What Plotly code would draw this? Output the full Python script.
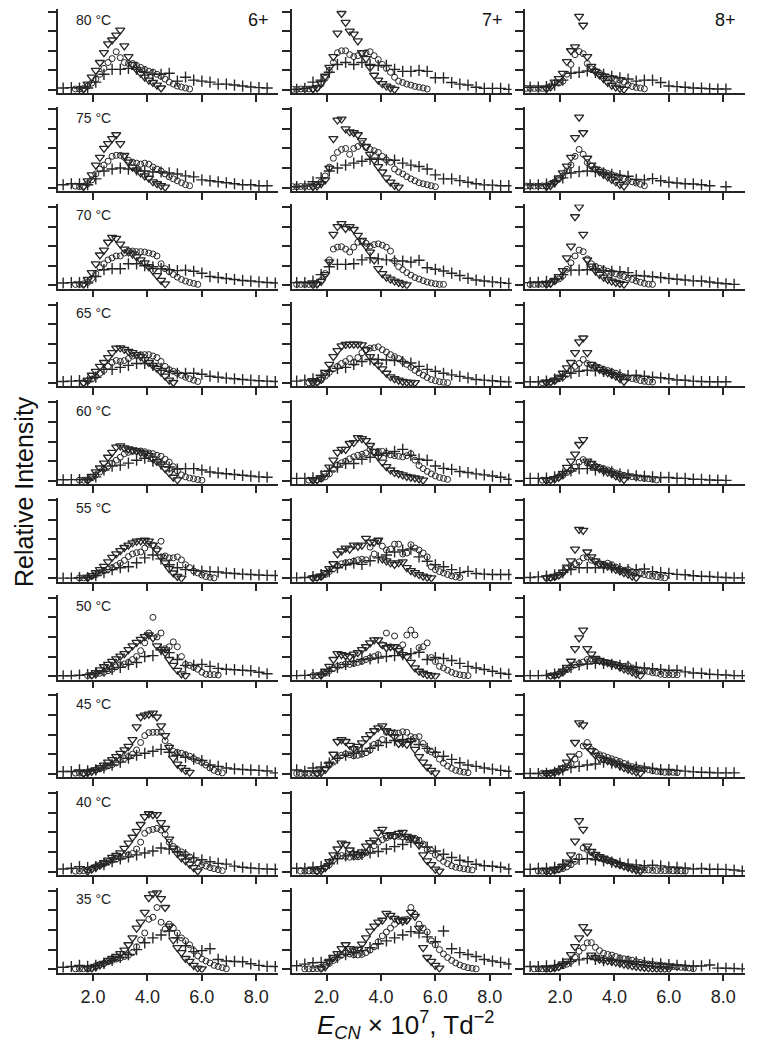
import plotly.graph_objects as go

N = None  # no measurement at this grid position

TEMPS = [80, 75, 70, 65, 60, 55, 50, 45, 40, 35]
CHARGES = ["6+", "7+", "8+"]
X_TICKS = [2, 4, 6, 8]
X_TICK_TEXT = ["2.0", "4.0", "6.0", "8.0"]

# E_CN grids the three series were sampled on
X_TRI = [1.5, 1.65, 1.8, 1.95, 2.1, 2.25, 2.4, 2.55, 2.7, 2.85, 3.0, 3.15, 3.3, 3.45, 3.6, 3.75,
         3.9, 4.05, 4.2, 4.35, 4.5, 4.65, 4.8, 4.95, 5.1, 5.25, 5.4, 5.55, 5.7, 5.85, 6.0, 6.15, 6.3]
X_CIRC = [0.75, 0.9, 1.05, 1.2, 1.35, 1.5, 1.65, 1.8, 1.95, 2.1, 2.25, 2.4, 2.55, 2.7, 2.85, 3.0,
          3.15, 3.3, 3.45, 3.6, 3.75, 3.9, 4.05, 4.2, 4.35, 4.5, 4.65, 4.8, 4.95, 5.1, 5.25, 5.4,
          5.55, 5.7, 5.85, 6.0, 6.15, 6.3, 6.45, 6.6, 6.75, 6.9, 7.05, 7.2, 7.35, 7.5, 7.65]
X_PLUS = [0.9, 1.2, 1.5, 1.8, 2.1, 2.4, 2.7, 3.0, 3.3, 3.6, 3.9, 4.2, 4.5, 4.8, 5.1, 5.4, 5.7,
          6.0, 6.3, 6.6, 6.9, 7.2, 7.5, 7.8, 8.1, 8.4, 8.7]

# ---- triangles ----
T6_80 = [N, 0.05, 0.3, 0.65, 1.0, 1.4, 1.9, 2.35, 2.55, 2.8, 3.05, 2.25, 1.7, 1.3, 1.05, 0.85, 0.65, 0.5, 0.38, 0.25, 0.1]
T6_75 = [N, 0.05, 0.35, 0.65, 1.15, 1.55, 2.0, 2.25, 2.5, 2.7, 2.25, 1.65, 1.3, 1.05, 0.9, 0.75, 0.6, 0.48, 0.3, 0.2, 0.1, 0.03]
T6_70 = [N, 0.05, 0.3, 0.65, 1.1, 1.55, 1.8, 2.2, 2.45, 2.4, 2.1, 1.85, 1.7, 1.6, 1.45, 1.3, 1.15, 0.95, 0.75, 0.5, 0.25, 0.08]
T6_65 = [N, 0.02, 0.15, 0.4, 0.6, 0.85, 1.05, 1.3, 1.55, 1.78, 1.8, 1.72, 1.62, 1.55, 1.45, 1.35, 1.2, 1.05, 0.9, 0.75, 0.55, 0.35, 0.15, 0.03]
T6_60 = [N, N, 0.03, 0.22, 0.45, 0.65, 0.9, 1.2, 1.45, 1.72, 1.78, 1.68, 1.62, 1.57, 1.52, 1.45, 1.38, 1.28, 1.12, 0.98, 0.85, 0.62, 0.4, 0.18, 0.05]
T6_55 = [N, N, 0.03, 0.15, 0.3, 0.45, 0.62, 0.85, 1.08, 1.25, 1.42, 1.58, 1.7, 1.82, 1.9, 1.92, 1.95, 1.9, 1.7, 1.45, 1.1, 0.8, 0.5, 0.28, 0.1, 0.02]
T6_50 = [N, N, N, 0.05, 0.18, 0.32, 0.48, 0.6, 0.75, 0.88, 1.02, 1.15, 1.35, 1.55, 1.72, 1.88, 2.02, 2.1, 1.95, 1.55, 1.35, 1.2, 0.85, 0.55, 0.3, 0.12, 0.03]
T6_45 = [N, 0.02, 0.06, 0.13, 0.2, 0.32, 0.45, 0.6, 0.73, 0.88, 1.05, 1.22, 1.4, 1.75, 2.4, 2.9, 3.0, 3.05, 3.1, 2.9, 2.45, 1.95, 1.35, 0.8, 0.5, 0.32, 0.18, 0.08]
T6_40 = [N, N, 0.02, 0.12, 0.22, 0.33, 0.45, 0.58, 0.72, 0.82, 0.95, 1.18, 1.45, 1.75, 2.05, 2.4, 2.8, 2.95, 2.9, 2.9, 2.5, 2.2, 1.65, 1.2, 0.92, 0.7, 0.55, 0.38, 0.2, 0.03]
T6_35 = [N, N, 0.02, 0.05, 0.12, 0.22, 0.3, 0.45, 0.55, 0.65, 0.8, 0.98, 1.25, 1.6, 2.1, 2.4, 2.9, 3.65, 3.85, 3.9, 3.6, 3.15, 2.2, 1.5, 1.1, 0.85, 0.55, 0.4, 0.2, 0.06, 0.02]

T7_80 = [0.05, 0.1, 0.35, 0.7, 1.15, 1.7, 2.9, 3.9, 3.45, 3.0, 2.85, 2.5, 1.9, 1.6, 1.15, 0.75, 0.5, 0.32, 0.2, 0.1, 0.03]
T7_75 = [0.05, 0.08, 0.2, 0.4, 1.0, 2.5, 3.45, 3.5, 3.0, 2.85, 2.8, 2.7, 2.4, 2.1, 1.7, 1.4, 1.07, 0.8, 0.5, 0.28, 0.12, 0.03]
T7_70 = [0.03, 0.06, 0.2, 0.55, 1.2, 2.6, 3.0, 3.15, 2.9, 3.0, 2.85, 2.55, 2.3, 2.0, 1.7, 1.3, 0.85, 0.6, 0.42, 0.32, 0.22, 0.15, 0.08, 0.03]
T7_65 = [0.03, 0.05, 0.2, 0.55, 0.95, 1.35, 1.65, 1.9, 1.97, 1.98, 1.98, 1.98, 1.95, 1.7, 1.35, 1.12, 0.92, 0.72, 0.5, 0.32, 0.22, 0.15, 0.08, 0.05, 0.03, 0.02]
T7_60 = [0.03, 0.05, 0.15, 0.38, 0.7, 1.05, 1.45, 1.6, 1.6, 1.9, 1.95, 2.2, 2.15, 2.05, 1.8, 1.5, 1.22, 0.95, 0.72, 0.55, 0.42, 0.36, 0.3, 0.22, 0.18, 0.14, 0.1, 0.03]
T7_55 = [0.03, 0.05, 0.12, 0.3, 0.5, 0.75, 1.25, 1.4, 1.55, 1.5, 1.7, 1.65, 1.7, 2.05, 1.85, 1.85, 1.95, 1.0, 0.9, 0.8, 0.72, 0.8, 0.85, 0.55, 0.4, 0.3, 0.2, 0.12, 0.06, 0.03]
T7_50 = [N, N, 0.05, 0.25, 0.5, 0.85, 1.15, 1.1, 1.05, 1.0, 1.12, 1.2, 1.35, 1.5, 1.7, 1.85, 1.85, 1.6, 1.45, 1.5, 1.5, 1.3, 1.1, 1.0, 0.7, 0.42, 0.25, 0.15, 0.08, 0.04, 0.02]
T7_45 = [N, 0.02, 0.06, 0.22, 0.5, 1.0, 1.65, 1.75, 1.65, 1.45, 1.28, 1.4, 1.58, 1.8, 2.0, 2.2, 2.35, 2.45, 2.2, 2.12, 1.9, 1.55, 1.58, 1.5, 1.7, 1.25, 0.88, 0.6, 0.35, 0.18, 0.05]
T7_40 = [N, 0.02, 0.05, 0.2, 0.5, 0.85, 1.15, 1.45, 1.38, 1.1, 0.92, 0.88, 1.0, 1.3, 1.48, 1.6, 2.0, 2.15, 1.85, 1.88, 1.8, 1.95, 2.0, 1.8, 1.7, 1.62, 1.35, 0.85, 0.55, 0.35, 0.12, 0.02]
T7_35 = [N, N, 0.03, 0.12, 0.4, 0.6, 0.8, 1.05, 1.25, 1.05, 0.98, 1.02, 1.28, 1.6, 1.95, 2.2, 2.4, 2.5, 2.85, 2.75, 2.6, 2.5, 2.45, 2.5, 2.9, 2.7, 2.1, 1.1, 0.6, 0.4, 0.2, 0.06]

T8_80 = [0.06, 0.15, 0.4, 0.58, 0.85, 1.45, 2.0, 2.2, 3.75, 3.3, 1.7, 1.2, 0.95, 0.77, 0.58, 0.38, 0.24, 0.15, 0.08, 0.03]
T8_75 = [0.05, 0.1, 0.25, 0.5, 0.75, 1.1, 1.55, 2.55, 3.6, 2.8, 1.5, 1.15, 0.95, 0.82, 0.68, 0.55, 0.42, 0.3, 0.17, 0.08]
T8_70 = [0.05, 0.1, 0.25, 0.45, 0.75, 1.4, 2.0, 3.5, 4.0, 2.6, 1.3, 0.98, 0.75, 0.56, 0.42, 0.3, 0.22, 0.15, 0.1, 0.05]
T8_65 = [0.03, 0.06, 0.15, 0.3, 0.5, 0.78, 1.05, 1.55, 2.1, 2.3, 1.55, 0.95, 0.82, 0.7, 0.6, 0.53, 0.44, 0.35, 0.22, 0.08]
T8_60 = [0.02, 0.05, 0.1, 0.18, 0.37, 0.68, 1.0, 1.36, 1.85, 2.1, 1.0, 0.88, 0.72, 0.62, 0.52, 0.44, 0.36, 0.25, 0.15, 0.06]
T8_55 = [0.03, 0.05, 0.1, 0.18, 0.32, 0.58, 0.9, 1.5, 2.5, 2.45, 1.35, 1.1, 0.9, 0.76, 0.68, 0.63, 0.58, 0.46, 0.38, 0.3, 0.22, 0.12, 0.04]
T8_50 = [N, 0.02, 0.04, 0.1, 0.25, 0.45, 0.76, 1.4, 1.95, 2.35, 1.4, 1.12, 0.9, 0.8, 0.73, 0.69, 0.63, 0.58, 0.46, 0.37, 0.3, 0.22, 0.12, 0.03]
T8_45 = [0.03, 0.05, 0.08, 0.15, 0.3, 0.6, 0.9, 1.6, 2.6, 2.5, 1.4, 1.18, 0.95, 0.82, 0.74, 0.67, 0.6, 0.52, 0.42, 0.32, 0.24, 0.17, 0.1, 0.04]
T8_40 = [0.02, 0.04, 0.08, 0.15, 0.28, 0.48, 0.85, 1.55, 2.6, 2.15, 1.3, 1.03, 0.87, 0.76, 0.68, 0.6, 0.5, 0.42, 0.35, 0.28, 0.21, 0.15, 0.08, 0.02]
T8_35 = [0.02, 0.04, 0.07, 0.13, 0.27, 0.42, 0.75, 1.15, 1.6, 2.18, 1.9, 0.72, 0.6, 0.52, 0.47, 0.44, 0.4, 0.36, 0.31, 0.26, 0.22, 0.18, 0.15, 0.12, 0.09, 0.07, 0.05, 0.04, 0.03, 0.02, 0.02]

# ---- circles ----
C6_80 = [N, N, N, N, 0.05, 0.05, 0.08, 0.2, 0.35, 0.55, 0.8, 1.1, 1.4, 1.6, 1.95, 1.65, 1.4, 1.35, 1.35, 1.25, 1.15, 1.05, 0.95, 0.9, 0.8, 0.7, 0.55, 0.4, 0.3, 0.2, 0.15, 0.1, 0.05]
C6_75 = [N, N, N, N, 0.08, 0.05, 0.08, 0.2, 0.4, 0.7, 0.95, 1.15, 1.35, 1.6, 1.65, 1.65, 1.55, 1.4, 1.3, 1.25, 1.2, 1.25, 1.2, 1.05, 0.95, 0.85, 0.7, 0.55, 0.45, 0.35, 0.25, 0.15, 0.1]
C6_70 = [N, N, N, N, 0.05, 0.05, 0.08, 0.15, 0.35, 0.6, 0.9, 1.1, 1.3, 1.4, 1.5, 1.5, 1.65, 1.75, 1.75, 1.72, 1.72, 1.7, 1.65, 1.6, 1.5, 1.1, 0.85, 0.7, 0.55, 0.42, 0.3, 0.22, 0.15, 0.1, 0.05]
C6_65 = [N, N, N, N, N, N, 0.02, 0.1, 0.2, 0.35, 0.5, 0.65, 0.85, 1.05, 1.15, 1.1, 1.15, 1.25, 1.38, 1.42, 1.45, 1.45, 1.45, 1.38, 1.3, 1.1, 0.85, 0.68, 0.6, 0.5, 0.4, 0.3, 0.22, 0.15, 0.08]
C6_60 = [N, N, N, N, N, 0.03, 0.03, 0.05, 0.15, 0.3, 0.45, 0.6, 0.75, 0.9, 1.05, 1.2, 1.38, 1.45, 1.5, 1.52, 1.52, 1.48, 1.42, 1.38, 1.3, 1.25, 1.1, 0.95, 0.72, 0.5, 0.3, 0.2, 0.14, 0.1, 0.06, 0.03]
C6_55 = [N, N, N, N, N, 0.03, 0.03, 0.06, 0.12, 0.2, 0.3, 0.4, 0.48, 0.55, 0.65, 0.78, 0.92, 1.12, 1.25, 1.32, 1.35, 1.55, 1.75, 1.7, 1.5, 1.9, 1.15, 1.05, 1.05, 1.1, 0.95, 0.7, 0.55, 0.38, 0.28, 0.18, 0.1, 0.06, 0.03]
C6_50 = [N, N, N, N, N, N, N, 0.03, 0.05, 0.1, 0.15, 0.2, 0.28, 0.35, 0.48, 0.58, 0.62, 0.7, 0.85, 1.0, 1.3, 1.7, 2.2, 3.0, 2.0, 2.2, 1.4, 1.5, 1.75, 1.5, 1.0, 0.6, 0.55, 0.45, 0.35, 0.2, 0.1, 0.08, 0.08, 0.06]
C6_45 = [N, N, N, N, 0.04, 0.04, 0.05, 0.1, 0.15, 0.2, 0.26, 0.32, 0.4, 0.47, 0.56, 0.7, 0.78, 0.88, 1.0, 1.22, 1.6, 1.95, 2.1, 2.12, 2.12, 2.12, 1.7, 1.4, 1.15, 1.1, 1.05, 0.98, 0.9, 0.78, 0.68, 0.58, 0.45, 0.3, 0.18, 0.1, 0.05]
C6_40 = [N, N, N, N, 0.02, 0.03, 0.05, 0.08, 0.15, 0.25, 0.32, 0.4, 0.5, 0.58, 0.65, 0.72, 0.8, 0.85, 0.92, 1.15, 1.5, 1.95, 2.1, 2.15, 2.2, 2.12, 1.9, 1.5, 1.28, 1.12, 1.0, 0.88, 0.75, 0.6, 0.45, 0.35, 0.28, 0.2, 0.15, 0.1, 0.05]
C6_35 = [N, N, N, N, 0.02, 0.02, 0.03, 0.05, 0.1, 0.18, 0.25, 0.3, 0.38, 0.45, 0.52, 0.58, 0.65, 0.72, 0.85, 1.15, 1.5, 1.85, 2.55, 2.65, 3.15, 2.4, 2.05, 2.3, 2.1, 1.85, 1.6, 1.45, 1.25, 0.95, 0.68, 0.52, 0.42, 0.32, 0.2, 0.14, 0.08, 0.03]

C7_80 = [0.03, 0.03, 0.05, 0.05, 0.05, 0.07, 0.1, 0.3, 0.6, 1.0, 1.4, 1.9, 2.0, 2.0, 1.8, 1.7, 1.75, 1.85, 1.9, 1.95, 1.75, 1.55, 1.3, 1.1, 0.9, 0.65, 0.45, 0.38, 0.3, 0.25, 0.18, 0.14, 0.1, 0.05]
C7_75 = [0.05, 0.05, 0.06, 0.06, 0.06, 0.08, 0.15, 0.3, 0.6, 1.05, 1.5, 1.8, 1.95, 2.0, 1.7, 2.0, 2.1, 2.25, 2.05, 1.95, 1.88, 1.8, 1.6, 1.42, 1.3, 0.95, 0.8, 0.7, 0.56, 0.45, 0.35, 0.25, 0.2, 0.15, 0.1, 0.05]
C7_70 = [N, 0.05, 0.05, 0.05, 0.05, 0.06, 0.1, 0.25, 0.6, 1.3, 1.85, 1.95, 1.97, 1.85, 1.7, 1.95, 2.2, 2.22, 2.15, 2.0, 2.08, 2.12, 2.05, 1.95, 1.75, 1.25, 0.95, 0.8, 0.65, 0.52, 0.4, 0.32, 0.24, 0.17, 0.12, 0.08, 0.05, 0.05]
C7_65 = [N, N, N, N, 0.02, 0.03, 0.05, 0.15, 0.35, 0.55, 0.72, 0.85, 1.0, 1.1, 1.25, 1.05, 1.3, 1.55, 1.7, 1.78, 1.8, 1.85, 1.7, 1.58, 1.45, 1.35, 1.25, 1.1, 0.95, 0.8, 0.65, 0.52, 0.4, 0.28, 0.18, 0.12, 0.07, 0.04, 0.02]
C7_60 = [N, N, N, N, 0.03, 0.03, 0.05, 0.1, 0.2, 0.35, 0.58, 0.8, 0.92, 1.0, 1.12, 1.22, 1.3, 1.35, 1.42, 1.6, 1.45, 1.5, 1.5, 1.4, 1.32, 1.28, 1.25, 1.22, 1.28, 1.38, 1.05, 0.78, 0.62, 0.48, 0.35, 0.25, 0.17, 0.12, 0.07]
C7_55 = [N, N, N, N, N, 0.03, 0.05, 0.1, 0.2, 0.35, 0.5, 0.65, 0.75, 0.8, 0.83, 0.88, 0.95, 0.98, 0.95, 1.6, 1.25, 1.9, 1.65, 1.45, 1.5, 1.75, 1.75, 1.25, 1.3, 1.72, 1.55, 1.45, 1.3, 1.1, 0.6, 0.45, 0.35, 0.28, 0.2, 0.13, 0.08, 0.05]
C7_50 = [N, N, N, N, N, 0.03, 0.03, 0.08, 0.15, 0.28, 0.4, 0.5, 0.56, 0.62, 0.6, 0.65, 0.7, 0.76, 0.85, 0.93, 1.0, 1.1, 1.6, 2.2, 1.5, 2.05, 1.4, 1.6, 2.1, 2.35, 2.1, 1.45, 1.5, 1.7, 0.95, 0.75, 0.5, 0.42, 0.3, 0.2, 0.12, 0.07, 0.04, 0.03]
C7_45 = [N, 0.02, 0.02, 0.03, 0.03, 0.03, 0.05, 0.12, 0.25, 0.45, 0.6, 0.8, 0.95, 1.02, 0.98, 0.92, 0.95, 1.0, 1.08, 1.22, 1.5, 1.58, 1.75, 2.12, 2.1, 2.1, 2.08, 2.15, 2.12, 1.9, 1.85, 1.9, 1.55, 1.25, 1.12, 1.0, 0.75, 0.55, 0.4, 0.28, 0.18, 0.13, 0.09, 0.06]
C7_40 = [N, N, 0.02, 0.02, 0.03, 0.03, 0.05, 0.12, 0.22, 0.35, 0.6, 0.8, 0.82, 0.77, 0.73, 0.77, 0.75, 0.85, 0.95, 1.1, 1.32, 1.5, 1.62, 1.72, 1.82, 1.82, 1.8, 1.76, 1.75, 1.72, 1.7, 1.6, 1.4, 1.12, 1.07, 0.85, 0.68, 0.52, 0.4, 0.29, 0.22, 0.18, 0.14, 0.11, 0.08]
C7_35 = [N, N, N, 0.02, 0.02, 0.03, 0.04, 0.1, 0.18, 0.3, 0.45, 0.6, 0.72, 0.82, 0.78, 0.74, 0.73, 0.76, 0.85, 0.98, 1.15, 1.4, 1.7, 1.9, 2.1, 2.3, 2.48, 2.52, 2.55, 3.15, 2.8, 2.3, 2.1, 1.9, 1.45, 1.25, 1.0, 0.78, 0.6, 0.45, 0.32, 0.22, 0.14, 0.08, 0.05, 0.02]

C8_80 = [0.08, 0.08, 0.08, 0.08, 0.08, 0.1, 0.2, 0.35, 0.35, 0.45, 0.8, 1.3, 1.8, 1.96, 1.85, 1.35, 1.08, 0.96, 0.85, 0.72, 0.65, 0.6, 0.55, 0.5, 0.4, 0.26, 0.18, 0.13, 0.1, 0.06]
C8_75 = [0.08, 0.08, 0.08, 0.08, 0.09, 0.1, 0.18, 0.3, 0.45, 0.6, 0.85, 1.15, 1.6, 1.95, 1.7, 1.28, 1.1, 0.95, 0.88, 0.8, 0.73, 0.66, 0.6, 0.52, 0.45, 0.38, 0.3, 0.24, 0.17, 0.1]
C8_70 = [N, 0.05, 0.05, 0.05, 0.06, 0.08, 0.12, 0.22, 0.32, 0.5, 0.82, 1.15, 1.5, 1.8, 1.72, 1.35, 1.1, 0.97, 0.87, 0.8, 0.72, 0.65, 0.58, 0.51, 0.45, 0.37, 0.3, 0.22, 0.16, 0.1, 0.06, 0.05]
C8_65 = [N, N, N, N, 0.02, 0.03, 0.06, 0.12, 0.22, 0.32, 0.45, 0.68, 0.85, 1.0, 1.2, 1.0, 0.92, 0.85, 0.78, 0.7, 0.64, 0.57, 0.5, 0.4, 0.32, 0.27, 0.23, 0.19, 0.13, 0.09, 0.07, 0.05]
C8_60 = [N, N, N, N, 0.03, 0.03, 0.05, 0.1, 0.18, 0.28, 0.42, 0.55, 0.7, 0.95, 1.08, 0.9, 0.82, 0.75, 0.68, 0.62, 0.55, 0.48, 0.4, 0.33, 0.28, 0.24, 0.21, 0.18, 0.15, 0.12, 0.11, 0.08, 0.04]
C8_55 = [N, N, N, N, N, 0.03, 0.04, 0.08, 0.15, 0.3, 0.5, 0.65, 0.75, 0.85, 1.05, 1.1, 0.93, 0.86, 0.76, 0.72, 0.78, 0.7, 0.58, 0.48, 0.42, 0.45, 0.35, 0.28, 0.24, 0.2, 0.15, 0.12, 0.09, 0.06, 0.03]
C8_50 = [N, N, N, N, N, N, 0.02, 0.04, 0.1, 0.2, 0.33, 0.48, 0.57, 0.64, 0.72, 0.85, 0.88, 0.82, 0.78, 0.73, 0.69, 0.64, 0.59, 0.52, 0.5, 0.54, 0.42, 0.35, 0.31, 0.28, 0.24, 0.18, 0.16, 0.1, 0.08, 0.08, 0.08, 0.07]
C8_45 = [N, N, N, N, 0.03, 0.03, 0.05, 0.1, 0.16, 0.26, 0.37, 0.52, 0.75, 1.0, 1.42, 1.6, 1.24, 1.12, 0.98, 0.92, 0.84, 0.77, 0.7, 0.63, 0.53, 0.42, 0.37, 0.33, 0.29, 0.25, 0.22, 0.16, 0.13, 0.11, 0.08, 0.08, 0.08, 0.06]
C8_40 = [N, N, N, 0.02, 0.02, 0.03, 0.04, 0.06, 0.1, 0.15, 0.24, 0.35, 0.52, 0.75, 1.2, 1.12, 0.98, 0.82, 0.7, 0.62, 0.56, 0.52, 0.44, 0.35, 0.28, 0.24, 0.18, 0.13, 0.1, 0.08, 0.08, 0.06, 0.05, 0.05, 0.05, 0.05, 0.04, 0.03, 0.03, 0.02]
C8_35 = [N, N, 0.02, 0.02, 0.02, 0.03, 0.04, 0.07, 0.12, 0.18, 0.26, 0.4, 0.6, 0.92, 1.1, 1.35, 1.36, 1.12, 0.95, 0.82, 0.76, 0.72, 0.65, 0.58, 0.53, 0.5, 0.46, 0.39, 0.35, 0.3, 0.27, 0.25, 0.22, 0.21, 0.18, 0.15, 0.14, 0.12, 0.1, 0.09, 0.06, 0.03]

# ---- crosses ----
P6_80 = [0.1, 0.12, 0.1, 0.1, 0.4, 0.8, 1.05, 1.05, 1.1, 1.05, 0.9, 0.8, 0.8, 0.85, 0.45, 0.65, 0.5, 0.45, 0.4, 0.3, 0.3, 0.25, 0.2, 0.15, 0.12, 0.1]
P6_75 = [0.15, 0.2, 0.2, 0.15, 0.45, 0.85, 0.95, 1.0, 0.95, 0.9, 0.85, 0.8, 0.8, 0.75, 0.7, 0.6, 0.55, 0.4, 0.35, 0.3, 0.25, 0.2, 0.15, 0.15, 0.1, 0.1]
P6_70 = [0.12, 0.14, 0.14, 0.12, 0.45, 0.8, 0.85, 0.85, 1.1, 1.1, 1.0, 0.95, 0.85, 0.8, 0.75, 0.78, 0.72, 0.62, 0.45, 0.4, 0.35, 0.3, 0.25, 0.22, 0.18, 0.15, 0.12]
P6_65 = [0.08, 0.1, 0.12, 0.1, 0.3, 0.7, 0.7, 0.8, 0.9, 1.0, 1.0, 0.9, 0.75, 0.6, 0.5, 0.5, 0.5, 0.45, 0.35, 0.3, 0.25, 0.22, 0.18, 0.15, 0.12, 0.1, 0.08]
P6_60 = [0.05, 0.06, 0.06, 0.05, 0.2, 0.55, 0.75, 0.8, 0.9, 1.05, 1.15, 1.0, 0.85, 0.7, 0.6, 0.62, 0.62, 0.55, 0.45, 0.4, 0.36, 0.32, 0.28, 0.24, 0.2, 0.18]
P6_55 = [0.02, 0.02, 0.04, 0.05, 0.15, 0.3, 0.45, 0.55, 0.6, 0.8, 1.05, 1.2, 1.0, 0.7, 0.55, 0.45, 0.42, 0.38, 0.35, 0.33, 0.28, 0.25, 0.22, 0.2, 0.18, 0.16, 0.15]
P6_50 = [0.02, 0.02, 0.05, 0.08, 0.15, 0.25, 0.35, 0.45, 0.6, 0.7, 1.0, 1.05, 1.35, 1.2, 0.85, 0.55, 0.55, 0.6, 0.5, 0.4, 0.35, 0.33, 0.3, 0.28, 0.2, 0.12]
P6_45 = [0.12, 0.12, 0.2, 0.15, 0.2, 0.3, 0.45, 0.6, 0.8, 0.95, 1.05, 1.15, 1.25, 1.1, 0.95, 0.85, 0.75, 0.68, 0.45, 0.38, 0.3, 0.25, 0.22, 0.2, 0.18, 0.15, 0.05]
P6_40 = [0.13, 0.17, 0.25, 0.2, 0.25, 0.35, 0.5, 0.65, 0.75, 0.85, 0.95, 1.05, 1.2, 1.15, 1.0, 0.85, 0.7, 0.6, 0.5, 0.42, 0.38, 0.28, 0.22, 0.18, 0.15, 0.13, 0.12]
P6_35 = [0.1, 0.14, 0.2, 0.15, 0.2, 0.3, 0.45, 0.6, 0.75, 1.0, 1.35, 1.6, 1.75, 1.95, 1.6, 1.2, 0.9, 0.95, 1.05, 0.5, 0.42, 0.4, 0.38, 0.28, 0.2, 0.15, 0.14]

P7_80 = [0.03, 0.08, 0.4, 0.5, 0.9, 1.3, 1.4, 1.3, 1.4, 1.3, 1.25, 1.25, 1.05, 0.95, 0.95, 1.0, 0.95, 0.62, 0.62, 0.38, 0.3, 0.25, 0.14, 0.08, 0.08, 0.08, 0.03]
P7_75 = [0.05, 0.08, 0.3, 0.5, 0.85, 1.0, 1.15, 1.25, 1.35, 1.45, 1.45, 1.42, 1.4, 1.25, 1.15, 1.08, 0.95, 0.65, 0.45, 0.45, 0.36, 0.28, 0.2, 0.14, 0.13, 0.1, 0.1]
P7_70 = [0.14, 0.14, 0.22, 0.55, 0.95, 1.07, 1.07, 1.1, 1.3, 1.4, 1.35, 1.3, 1.25, 1.24, 1.19, 1.28, 0.9, 0.82, 0.73, 0.62, 0.5, 0.36, 0.27, 0.22, 0.18, 0.14, 0.1]
P7_65 = [0.1, 0.15, 0.22, 0.4, 0.6, 0.75, 0.8, 0.95, 1.1, 1.2, 1.2, 1.18, 1.15, 1.1, 1.02, 0.85, 0.7, 0.6, 0.5, 0.42, 0.34, 0.26, 0.18, 0.15, 0.12, 0.08, 0.06]
P7_60 = [0.12, 0.12, 0.15, 0.25, 0.5, 0.7, 0.88, 0.88, 1.1, 1.2, 1.3, 1.4, 1.5, 1.6, 1.3, 1.1, 1.05, 0.75, 0.63, 0.58, 0.47, 0.42, 0.35, 0.3, 0.24, 0.18, 0.08]
P7_55 = [0.03, 0.05, 0.1, 0.2, 0.35, 0.55, 0.7, 0.78, 0.72, 0.9, 1.05, 1.2, 1.35, 1.45, 1.5, 1.1, 0.88, 0.7, 0.6, 0.45, 0.3, 0.36, 0.25, 0.22, 0.2, 0.2, 0.2]
P7_50 = [0.03, 0.04, 0.08, 0.08, 0.25, 0.45, 0.6, 0.75, 0.85, 0.88, 0.93, 1.0, 1.05, 1.1, 1.15, 1.22, 0.85, 0.95, 0.9, 0.8, 0.65, 0.5, 0.42, 0.34, 0.25, 0.15, 0.1]
P7_45 = [0.2, 0.13, 0.3, 0.35, 0.55, 0.8, 0.95, 1.05, 1.15, 1.3, 1.45, 1.6, 1.7, 1.75, 1.65, 1.5, 1.3, 1.1, 0.9, 0.74, 0.57, 0.45, 0.38, 0.3, 0.24, 0.18, 0.13]
P7_40 = [0.17, 0.17, 0.22, 0.25, 0.4, 0.65, 0.8, 0.85, 0.88, 0.95, 1.02, 1.15, 1.27, 1.38, 1.5, 1.45, 1.25, 1.05, 0.88, 0.72, 0.58, 0.5, 0.37, 0.3, 0.27, 0.22, 0.13]
P7_35 = [0.18, 0.26, 0.33, 0.35, 0.45, 0.6, 0.75, 0.85, 0.95, 1.1, 1.3, 1.45, 1.6, 1.75, 1.92, 1.85, 1.65, 1.4, 1.95, 1.05, 0.85, 0.75, 0.65, 0.5, 0.42, 0.35, 0.27]

P8_80 = [0.14, 0.14, 0.17, 0.25, 0.5, 0.85, 0.9, 0.97, 0.9, 0.8, 0.7, 0.62, 0.56, 0.45, 0.5, 0.5, 0.38, 0.2, 0.17, 0.14, 0.1, 0.09, 0.06, 0.05, 0.05]
P8_75 = [0.14, 0.14, 0.18, 0.3, 0.5, 0.75, 0.82, 0.85, 0.82, 0.75, 0.68, 0.62, 0.58, 0.42, 0.4, 0.46, 0.35, 0.28, 0.24, 0.2, 0.19, 0.15, 0.1, N, 0.05]
P8_70 = [0.14, 0.16, 0.2, 0.3, 0.55, 0.78, 0.78, 0.8, 0.78, 0.75, 0.72, 0.7, 0.65, 0.5, 0.48, 0.44, 0.4, 0.35, 0.31, 0.27, 0.23, 0.22, 0.17, 0.12, 0.08, 0.05]
P8_65 = [0.07, 0.07, 0.1, 0.2, 0.35, 0.5, 0.6, 0.65, 0.62, 0.6, 0.5, 0.42, 0.38, 0.4, 0.35, 0.3, 0.27, 0.22, 0.16, 0.14, 0.1, 0.08, 0.07, 0.07, 0.07]
P8_60 = [0.12, 0.12, 0.14, 0.2, 0.35, 0.5, 0.62, 0.62, 0.55, 0.5, 0.45, 0.35, 0.3, 0.25, 0.22, 0.2, 0.17, 0.17, 0.13, 0.12, 0.08, 0.07, 0.04, 0.03, 0.02]
P8_55 = [0.05, 0.08, 0.12, 0.18, 0.3, 0.45, 0.55, 0.55, 0.55, 0.55, 0.55, 0.5, 0.45, 0.45, 0.48, 0.35, 0.3, 0.26, 0.21, 0.19, 0.14, 0.11, 0.1, 0.07, 0.05, 0.03, 0.03]
P8_50 = [0.03, 0.03, 0.04, 0.1, 0.25, 0.45, 0.58, 0.62, 0.66, 0.65, 0.6, 0.55, 0.5, 0.45, 0.42, 0.38, 0.34, 0.3, 0.3, 0.22, 0.16, 0.15, 0.1, 0.08, 0.06, 0.03, 0.03]
P8_45 = [0.02, 0.02, 0.03, 0.08, 0.2, 0.32, 0.38, 0.45, 0.5, 0.6, 0.55, 0.45, 0.4, 0.35, 0.3, 0.28, 0.22, 0.22, 0.18, 0.14, 0.1, 0.08, 0.07, 0.05, 0.05, 0.05]
P8_40 = [0.12, 0.16, 0.17, 0.22, 0.35, 0.5, 0.62, 0.65, 0.6, 0.55, 0.48, 0.42, 0.38, 0.34, 0.3, 0.32, 0.29, 0.23, 0.22, 0.18, 0.13, 0.16, 0.12, 0.12, 0.11, 0.08, 0.03]
P8_35 = [0.14, 0.14, 0.17, 0.2, 0.3, 0.4, 0.48, 0.55, 0.5, 0.44, 0.45, 0.45, 0.42, 0.38, 0.35, 0.3, 0.27, 0.24, 0.2, 0.18, 0.17, 0.17, 0.22, 0.06, 0.05, 0.04, 0.02]

TRI = {
    "6+": [T6_80, T6_75, T6_70, T6_65, T6_60, T6_55, T6_50, T6_45, T6_40, T6_35],
    "7+": [T7_80, T7_75, T7_70, T7_65, T7_60, T7_55, T7_50, T7_45, T7_40, T7_35],
    "8+": [T8_80, T8_75, T8_70, T8_65, T8_60, T8_55, T8_50, T8_45, T8_40, T8_35],
}
CIRC = {
    "6+": [C6_80, C6_75, C6_70, C6_65, C6_60, C6_55, C6_50, C6_45, C6_40, C6_35],
    "7+": [C7_80, C7_75, C7_70, C7_65, C7_60, C7_55, C7_50, C7_45, C7_40, C7_35],
    "8+": [C8_80, C8_75, C8_70, C8_65, C8_60, C8_55, C8_50, C8_45, C8_40, C8_35],
}
PLUS = {
    "6+": [P6_80, P6_75, P6_70, P6_65, P6_60, P6_55, P6_50, P6_45, P6_40, P6_35],
    "7+": [P7_80, P7_75, P7_70, P7_65, P7_60, P7_55, P7_50, P7_45, P7_40, P7_35],
    "8+": [P8_80, P8_75, P8_70, P8_65, P8_60, P8_55, P8_50, P8_45, P8_40, P8_35],
}

# page geometry in screen pixels; the page body adds an 8 px offset
PAGE = 8
W, H = 758 - PAGE, 1050 - PAGE
COL_LEFT = [58, 291.5, 525]
COL_W = 220
ROW_TOP, ROW_H, ROW_STEP = 9, 84.3, 97.7

INK = "#262626"
FONT = "Liberation Sans, Arial, sans-serif"


def px_x(x):
    return (x - PAGE) / W


def px_y(y):
    return 1 - (y - PAGE) / H


fig = go.Figure()
layout = {}
annotations = []

for c, charge in enumerate(CHARGES):
    for r, temp in enumerate(TEMPS):
        n = r * 3 + c + 1
        xa, ya = ("x", "y") if n == 1 else (f"x{n}", f"y{n}")
        series = [
            (X_TRI, TRI[charge][r], "triangle-down-open", 8, 1.3),
            (X_CIRC, CIRC[charge][r], "circle-open", 6, 1.0),
            (X_PLUS, PLUS[charge][r], "cross-thin-open", 8, 1.4),
        ]
        for xs, ys, sym, size, lw in series:
            fig.add_trace(
                go.Scatter(
                    x=xs[: len(ys)],
                    y=ys,
                    mode="markers",
                    xaxis=xa,
                    yaxis=ya,
                    marker={
                        "symbol": sym,
                        "size": size,
                        "color": INK,
                        "line": {"color": INK, "width": lw},
                    },
                    showlegend=False,
                    hoverinfo="skip",
                )
            )
        left = COL_LEFT[c]
        top = ROW_TOP + r * ROW_STEP
        axis_style = {
            "showline": True,
            "linecolor": INK,
            "linewidth": 1.5,
            "ticks": "outside",
            "tickcolor": INK,
            "tickwidth": 1.5,
            "showgrid": False,
            "zeroline": False,
            "automargin": False,
            "fixedrange": True,
        }
        layout[f"xaxis{n}"] = dict(
            axis_style,
            domain=[px_x(left), px_x(left + COL_W)],
            anchor=ya,
            range=[0.71, 8.8],
            tickvals=X_TICKS,
            ticktext=X_TICK_TEXT,
            ticklen=7,
            showticklabels=(r == len(TEMPS) - 1),
            tickfont={"family": FONT, "size": 18, "color": "#222"},
        )
        layout[f"yaxis{n}"] = dict(
            axis_style,
            domain=[px_y(top + ROW_H), px_y(top)],
            anchor=xa,
            range=[-0.17, 4.13],
            tickvals=[0, 1, 2, 3, 4],
            ticklen=8,
            showticklabels=False,
        )
        if c == 0:
            annotations.append(dict(
                text=f"{temp} °C", xref="paper", yref="paper",
                x=px_x(74), y=px_y(top + 11),
                xanchor="left", yanchor="middle", showarrow=False,
                font={"family": FONT, "size": 14, "color": "#222"},
            ))
        if r == 0:
            annotations.append(dict(
                text=charge, xref="paper", yref="paper",
                x=px_x(left + COL_W - 7), y=px_y(top + 11),
                xanchor="right", yanchor="middle", showarrow=False,
                font={"family": FONT, "size": 18, "color": "#111"},
            ))

annotations.append(dict(
    text="Relative Intensity", xref="paper", yref="paper",
    x=px_x(24), y=px_y(492), textangle=-90,
    xanchor="center", yanchor="middle", showarrow=False,
    font={"family": FONT, "size": 25, "color": "#111"},
))
annotations.append(dict(
    text="<i>E</i><sub><i>CN</i></sub> × 10<sup>7</sup>, Td<sup>−2</sup>",
    xref="paper", yref="paper", x=px_x(405), y=px_y(1025),
    xanchor="center", yanchor="middle", showarrow=False,
    font={"family": FONT, "size": 26, "color": "#111"},
))

fig.update_layout(
    width=W,
    height=H,
    margin={"l": 0, "r": 0, "t": 0, "b": 0},
    paper_bgcolor="white",
    plot_bgcolor="white",
    annotations=annotations,
    **layout,
)

fig.write_html("out.html")
